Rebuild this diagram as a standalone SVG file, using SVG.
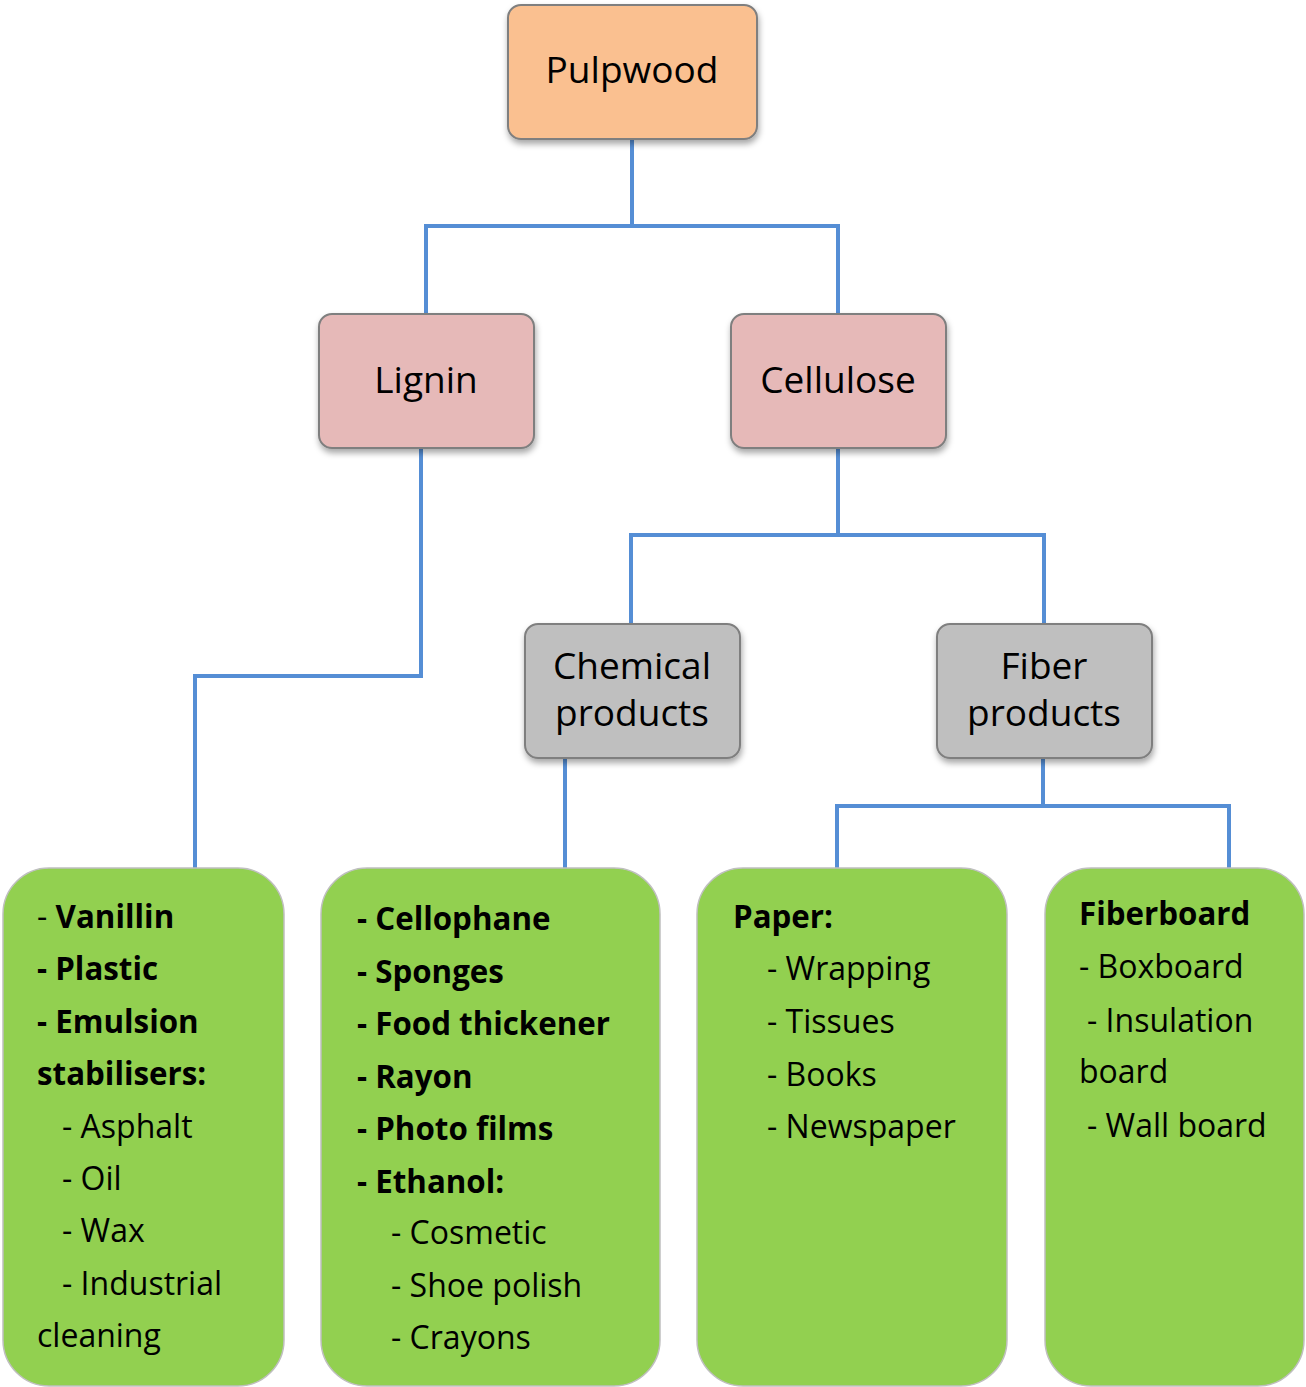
<svg xmlns="http://www.w3.org/2000/svg" width="1306" height="1387" viewBox="0 0 1306 1387">
<style>
.box{stroke:#7f7f7f;stroke-width:2;filter:url(#sh)}
.orange{fill:#FAC090}
.pink{fill:#E6B9B8}
.gray{fill:#BFBFBF}
.green{fill:#92D050;stroke:#BFBFBF;stroke-width:1.5}
.lbl{font-family:"Open Sans","Liberation Sans",sans-serif;font-size:37px;fill:#000;text-anchor:middle}
.t{font-family:"Open Sans","Liberation Sans",sans-serif;font-size:32px;fill:#000}
.b{font-weight:bold;font-size:31.3px}
.conn{fill:none;stroke:#558ED5;stroke-width:4;stroke-linejoin:miter}
</style>
<defs>
<filter id="sh" x="-10%" y="-10%" width="125%" height="135%">
<feDropShadow dx="1" dy="4" stdDeviation="3" flood-color="#000" flood-opacity="0.35"/>
</filter>
</defs>
<rect width="1306" height="1387" fill="#fff"/>
<g id="connectors">
<path class="conn" d="M632,139 V226 M426,314 V226 H838 V314"/>
<path class="conn" d="M421,448 V676 H195 V868"/>
<path class="conn" d="M838,448 V535 M631,624 V535 H1044 V624"/>
<path class="conn" d="M565,758 V868"/>
<path class="conn" d="M1043,758 V806 M837,868 V806 H1229 V868"/>
</g>
<g id="pulpwood">
<rect class="box orange" x="508" y="5" width="249" height="134" rx="13"/>
<text class="lbl" x="632" y="83">Pulpwood</text>
</g>
<g id="lignin">
<rect class="box pink" x="319" y="314" width="215" height="134" rx="13"/>
<text class="lbl" x="426" y="393">Lignin</text>
</g>
<g id="cellulose">
<rect class="box pink" x="731" y="314" width="215" height="134" rx="13"/>
<text class="lbl" x="838" y="393">Cellulose</text>
</g>
<g id="chemical">
<rect class="box gray" x="525" y="624" width="215" height="134" rx="13"/>
<text class="lbl" x="632" y="679">Chemical</text>
<text class="lbl" x="632" y="726">products</text>
</g>
<g id="fiber">
<rect class="box gray" x="937" y="624" width="215" height="134" rx="13"/>
<text class="lbl" x="1044" y="679">Fiber</text>
<text class="lbl" x="1044" y="726">products</text>
</g>
<g id="lignin-products">
<rect class="green" x="3" y="868" width="281" height="518" rx="46"/>
<text class="t" x="37" y="928">- <tspan class="b">Vanillin</tspan></text>
<text class="t b" x="37" y="980">- Plastic</text>
<text class="t b" x="37" y="1033">- Emulsion</text>
<text class="t b" x="37" y="1085">stabilisers:</text>
<text class="t" x="62" y="1138">- Asphalt</text>
<text class="t" x="62" y="1190">- Oil</text>
<text class="t" x="62" y="1242">- Wax</text>
<text class="t" x="62" y="1295">- Industrial</text>
<text class="t" x="37" y="1347">cleaning</text>
</g>
<g id="chemical-products">
<rect class="green" x="321" y="868" width="339" height="518" rx="46"/>
<text class="t b" x="357" y="930">- Cellophane</text>
<text class="t b" x="357" y="983">- Sponges</text>
<text class="t b" x="357" y="1035">- Food thickener</text>
<text class="t b" x="357" y="1088">- Rayon</text>
<text class="t b" x="357" y="1140">- Photo films</text>
<text class="t b" x="357" y="1193">- Ethanol:</text>
<text class="t" x="391" y="1244">- Cosmetic</text>
<text class="t" x="391" y="1297">- Shoe polish</text>
<text class="t" x="391" y="1349">- Crayons</text>
</g>
<g id="paper-products">
<rect class="green" x="697" y="868" width="310" height="518" rx="46"/>
<text class="t b" x="733" y="928">Paper:</text>
<text class="t" x="767" y="980">- Wrapping</text>
<text class="t" x="767" y="1033">- Tissues</text>
<text class="t" x="767" y="1086">- Books</text>
<text class="t" x="767" y="1138">- Newspaper</text>
</g>
<g id="fiberboard-products">
<rect class="green" x="1045" y="868" width="259" height="518" rx="46"/>
<text class="t b" x="1079" y="925">Fiberboard</text>
<text class="t" x="1079" y="978">- Boxboard</text>
<text class="t" x="1087" y="1032">- Insulation</text>
<text class="t" x="1079" y="1083">board</text>
<text class="t" x="1087" y="1137">- Wall board</text>
</g>
</svg>
